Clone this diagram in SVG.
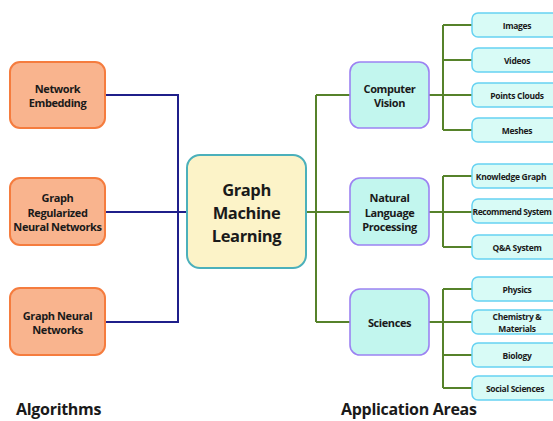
<svg xmlns="http://www.w3.org/2000/svg" width="553" height="421" viewBox="0 0 553 421">
<style>
text{font-family:"Open Sans","Noto Sans","Liberation Sans",sans-serif;font-weight:bold;fill:#1a1a1a;text-anchor:middle;dominant-baseline:central}
.alg rect{fill:#f9b48e;stroke:#f57c3e;stroke-width:2}
.alg text{font-size:11px;letter-spacing:-0.4px}
.app rect{fill:#c2f6ee;stroke:#9c82f2;stroke-width:1.6}
.app text{font-size:11px;letter-spacing:-0.4px}
.leaf rect{fill:#d8fbf6;stroke:#66d2f2;stroke-width:1.5}
.leaf text{font-size:8.5px;letter-spacing:-0.3px}
.blue{fill:none;stroke:#1f1f8a;stroke-width:2}
.green{fill:none;stroke:#56822a;stroke-width:2}
.title{font-size:16px;letter-spacing:-0.3px;text-anchor:start;dominant-baseline:alphabetic}
</style>
<rect width="553" height="421" fill="#ffffff"/>
<g id="connectors">
<path class="blue" d="M105 95H178V322H105M105 212H187"/>
<path class="green" d="M306 212H350M316 95V322M316 95H350M316 322H350"/>
<path class="green" d="M429 95H472M443 25V130M443 25H472M443 60H472M443 130H472"/>
<path class="green" d="M429 212H472M443 176V247M443 176H472M443 247H472"/>
<path class="green" d="M429 322H472M443 289V388M443 289H472M443 355H472M443 388H472"/>
</g>
<g id="n-network-embedding" class="alg"><rect x="10" y="62" width="95" height="66" rx="10"/><text x="57.5" y="88">Network</text><text x="57.5" y="102">Embedding</text></g>
<g id="n-graph-regularized" class="alg"><rect x="10" y="178" width="95" height="67" rx="10"/><text x="57.5" y="197">Graph</text><text x="57.5" y="212">Regularized</text><text x="57.5" y="226">Neural Networks</text></g>
<g id="n-gnn" class="alg"><rect x="10" y="288" width="95" height="67" rx="10"/><text x="57.5" y="315">Graph Neural</text><text x="57.5" y="329">Networks</text></g>
<g id="n-gml"><rect x="187" y="155" width="119" height="113" rx="13" fill="#fcf3c8" stroke="#4bb0bb" stroke-width="2"/><text x="246.5" y="189" style="font-size:16.5px;letter-spacing:-0.4px">Graph</text><text x="246.5" y="212" style="font-size:16.5px;letter-spacing:-0.4px">Machine</text><text x="246.5" y="235" style="font-size:16.5px;letter-spacing:-0.4px">Learning</text></g>
<g id="n-cv" class="app"><rect x="350" y="62" width="79" height="66" rx="10"/><text x="389.5" y="88">Computer</text><text x="389.5" y="102">Vision</text></g>
<g id="n-nlp" class="app"><rect x="350" y="178" width="79" height="67" rx="10"/><text x="389.5" y="197">Natural</text><text x="389.5" y="212">Language</text><text x="389.5" y="226">Processing</text></g>
<g id="n-sci" class="app"><rect x="350" y="289" width="79" height="66" rx="10"/><text x="389.5" y="322">Sciences</text></g>
<g id="n-images" class="leaf"><rect x="472" y="13" width="92" height="24" rx="6"/><text x="517" y="25">Images</text></g>
<g id="n-videos" class="leaf"><rect x="472" y="48" width="92" height="24" rx="6"/><text x="517" y="60">Videos</text></g>
<g id="n-points" class="leaf"><rect x="472" y="83" width="92" height="24" rx="6"/><text x="517" y="95">Points Clouds</text></g>
<g id="n-meshes" class="leaf"><rect x="472" y="118" width="92" height="24" rx="6"/><text x="517" y="130">Meshes</text></g>
<g id="n-kg" class="leaf"><rect x="472" y="164" width="92" height="24" rx="6"/><text x="511" y="176">Knowledge Graph</text></g>
<g id="n-rs" class="leaf"><rect x="472" y="199" width="92" height="24" rx="6"/><text x="512" y="211" style="letter-spacing:-0.45px">Recommend System</text></g>
<g id="n-qa" class="leaf"><rect x="472" y="235" width="92" height="24" rx="6"/><text x="517" y="247">Q&amp;A System</text></g>
<g id="n-physics" class="leaf"><rect x="472" y="277" width="92" height="24" rx="6"/><text x="517" y="289">Physics</text></g>
<g id="n-chem" class="leaf"><rect x="472" y="310" width="92" height="24" rx="6"/><text x="517" y="316">Chemistry &amp;</text><text x="517" y="328">Materials</text></g>
<g id="n-bio" class="leaf"><rect x="472" y="343" width="92" height="24" rx="6"/><text x="517" y="355">Biology</text></g>
<g id="n-social" class="leaf"><rect x="472" y="376" width="92" height="24" rx="6"/><text x="515" y="388">Social Sciences</text></g>
<text class="title" x="16" y="415">Algorithms</text>
<text class="title" x="341" y="415">Application Areas</text>
</svg>
